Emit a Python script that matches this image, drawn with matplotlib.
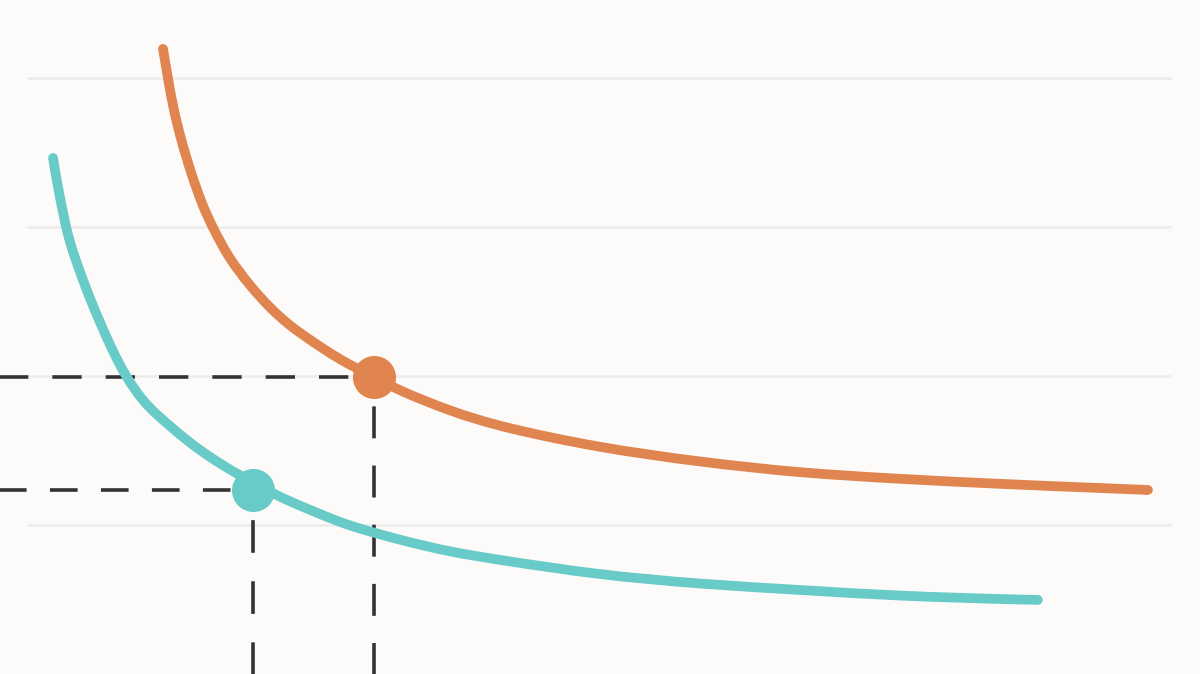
import matplotlib
matplotlib.use('Agg')
from matplotlib import pyplot as plt
from matplotlib.path import Path
from matplotlib.patches import PathPatch
import numpy as np

matplotlib.rcParams.update({
    'figure.figsize': [12, 6.74],
    'figure.dpi': 100,
    'lines.scale_dashes': False,
})

# one unit on both axes = distance between two grid lines
grid_y = [1, 2, 3, 4]

# higher indifference curve
orange_x = [1.094, 1.128, 1.161, 1.215, 1.282, 1.362, 1.430, 1.530, 1.678, 1.812,
            1.946, 2.081, 2.282, 2.510, 2.685, 3.020, 3.356, 4.027, 4.698, 5.369,
            6.040, 6.711, 7.383, 7.705]
orange_y = [4.195, 3.993, 3.805, 3.584, 3.362, 3.134, 2.993, 2.799, 2.604, 2.456,
            2.336, 2.242, 2.107, 1.993, 1.899, 1.765, 1.658, 1.517, 1.423, 1.349,
            1.309, 1.275, 1.248, 1.235]

# lower indifference curve
teal_x = [0.356, 0.383, 0.443, 0.483, 0.604, 0.752, 0.846, 0.953, 1.047, 1.141,
          1.275, 1.409, 1.544, 1.859, 2.034, 2.195, 2.349, 2.685, 3.020, 3.356,
          4.027, 4.698, 5.369, 6.040, 6.711, 6.966]
teal_y = [3.463, 3.295, 2.993, 2.846, 2.510, 2.174, 1.993, 1.839, 1.745, 1.664,
          1.550, 1.456, 1.369, 1.195, 1.121, 1.054, 0.993, 0.899, 0.819, 0.765,
          0.664, 0.604, 0.564, 0.523, 0.503, 0.497]

# chosen bundles on each curve
orange_point = (2.51, 1.99)
teal_point = (1.70, 1.235)

BG = '#fcfbf9'
GRID = '#edecea'
ORANGE = '#e0854f'
TEAL = '#68cbc8'
DASH = '#333333'


def basis_path(xs, ys):
    """
    Cubic B-spline path with the points as control points (like d3's
    curveBasis), ends clamped so the line starts and stops on the data.
    """
    p = np.column_stack([xs, ys])
    p = np.vstack([p[:1], p[:1], p, p[-1:], p[-1:]])

    verts = [p[0]]
    codes = [Path.MOVETO]
    for i in range(1, len(p) - 2):
        b1 = (2 * p[i] + p[i + 1]) / 3
        b2 = (p[i] + 2 * p[i + 1]) / 3
        b3 = (p[i] + 4 * p[i + 1] + p[i + 2]) / 6
        verts += [b1, b2, b3]
        codes += [Path.CURVE4] * 3
    return Path(verts, codes)


def curve(ax, xs, ys, color):
    patch = PathPatch(basis_path(xs, ys), facecolor='none', edgecolor=color,
                      lw=7.0, capstyle='round', joinstyle='round', zorder=3)
    ax.add_patch(patch)


def guide_lines(ax, point, h_dashes, v_dashes):
    """Dashed lines from the point to the left and bottom edges."""
    x, y = point
    ax.plot([-0.094, x], [y, y], color=DASH, lw=2.6, dashes=h_dashes, zorder=2)
    ax.plot([x, x], [-0.107, y], color=DASH, lw=2.6, dashes=v_dashes, zorder=2)


def main():
    fig = plt.figure(facecolor=BG)
    ax = fig.add_axes([0, 0, 1, 1])
    ax.set_facecolor(BG)
    ax.set_xlim(0, 8.054)
    ax.set_ylim(0, 4.523)
    ax.axis('off')

    for gy in grid_y:
        ax.axhline(gy, xmin=0.023, xmax=0.975, color=GRID, lw=1.8, zorder=1)

    guide_lines(ax, orange_point, (21.1, 17.3), (23.0, 19.6))
    guide_lines(ax, teal_point, (19.9, 16.8), (23.5, 20.5))

    curve(ax, orange_x, orange_y, ORANGE)
    curve(ax, teal_x, teal_y, TEAL)

    ax.plot(*orange_point, 'o', color=ORANGE, ms=31, mew=0, zorder=4)
    ax.plot(*teal_point, 'o', color=TEAL, ms=31, mew=0, zorder=4)

    fig.savefig('out.png', dpi=100, facecolor=BG)


if __name__ == '__main__':
    main()
